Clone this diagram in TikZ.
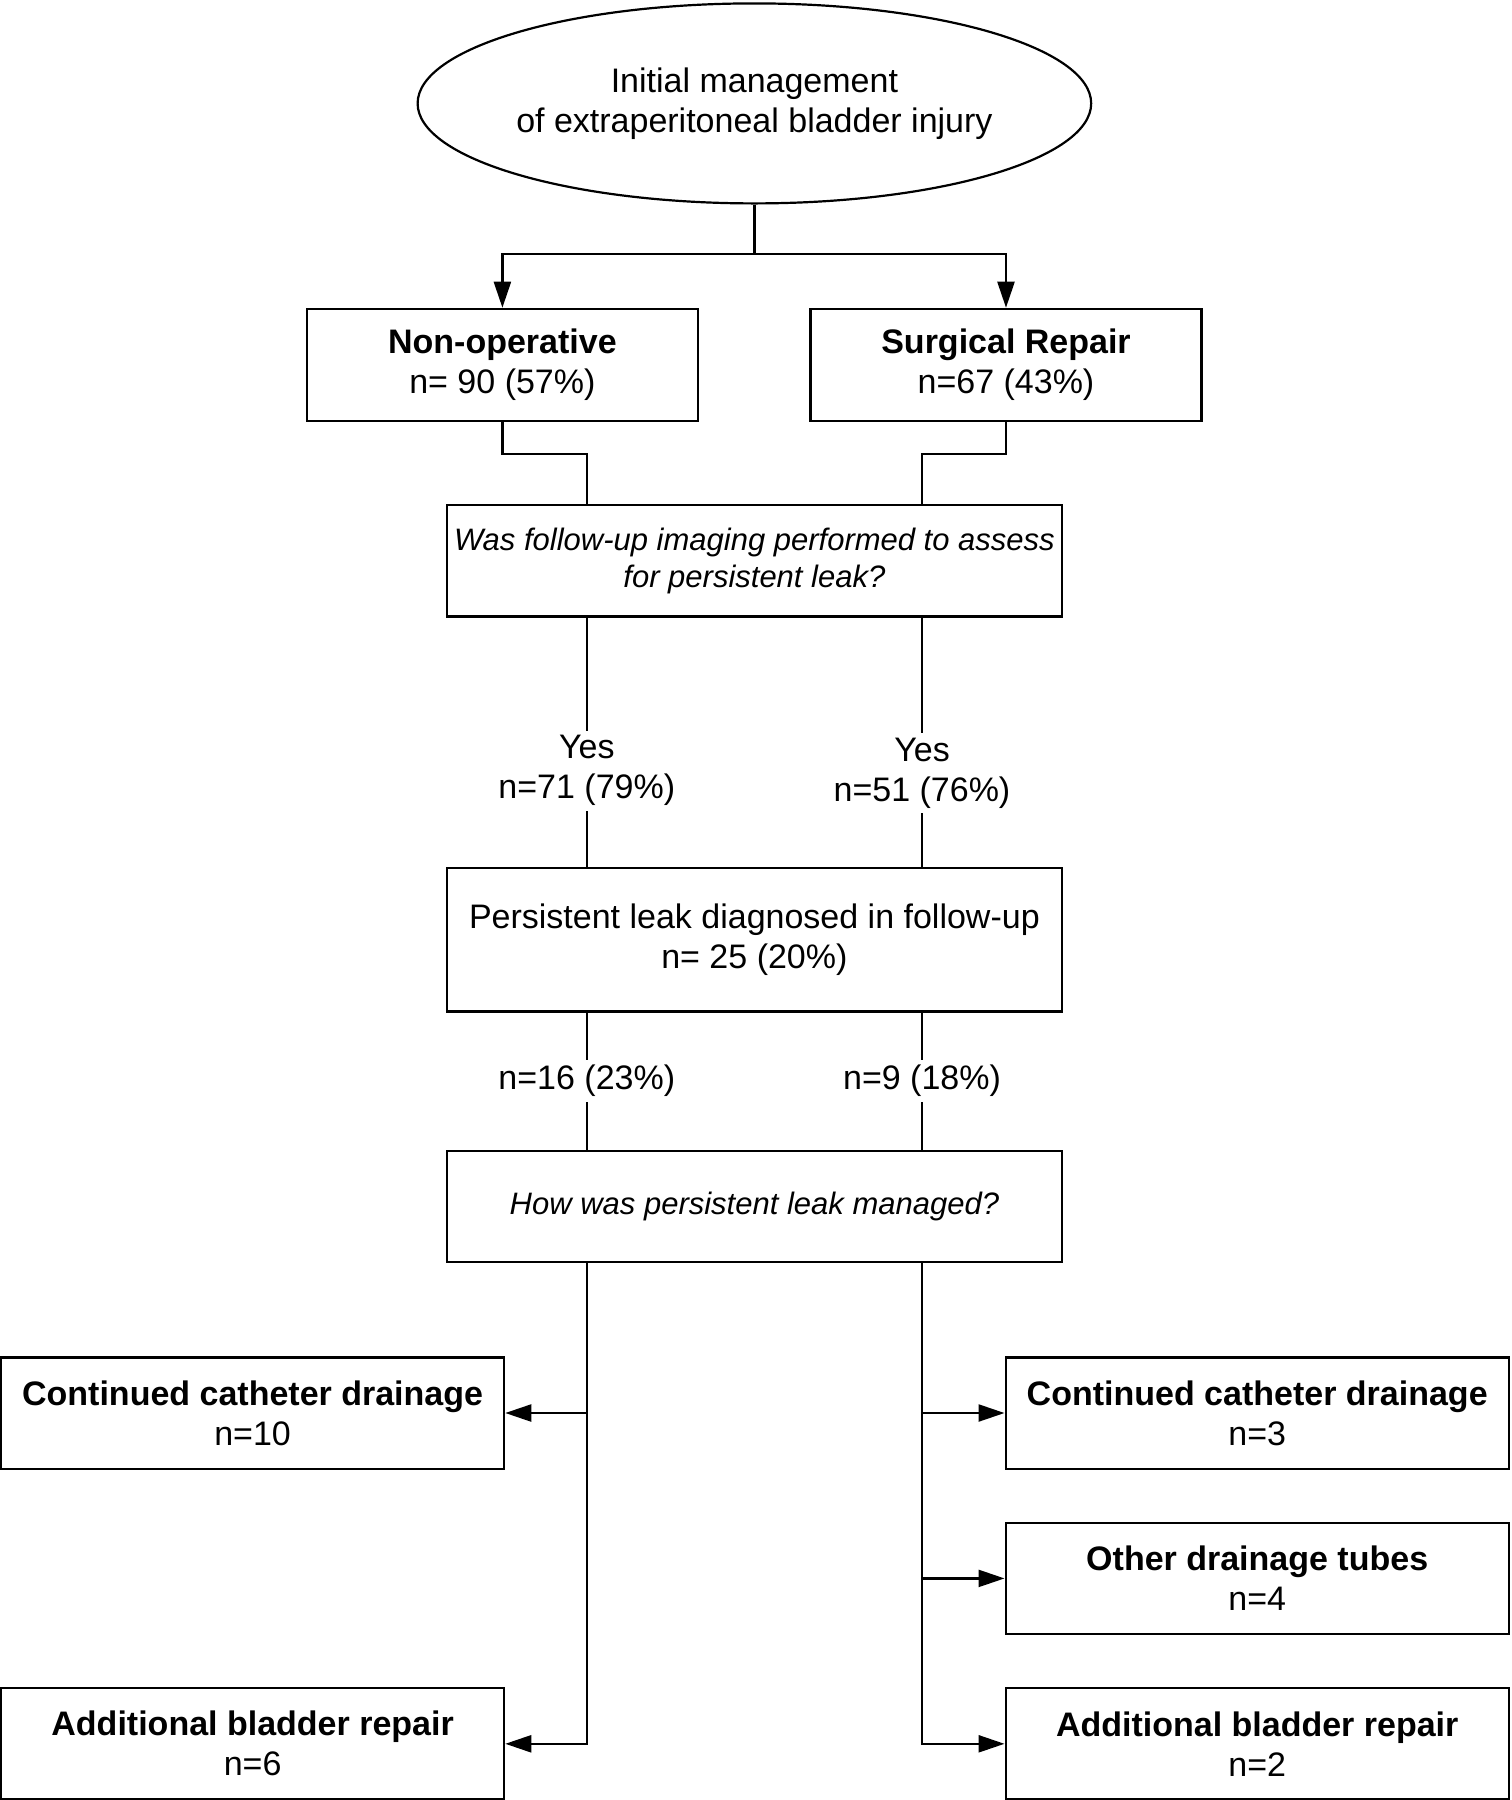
\documentclass[tikz,border=0pt]{standalone}
\usepackage{fontspec}
\setmainfont{Liberation Sans}
\usepackage{tikz}
\usetikzlibrary{positioning,arrows.meta,calc,shapes.geometric}
\newcommand{\query}[1]{{\fontsize{15.5pt}{18.5pt}\selectfont\itshape #1}}
\tikzset{
  oval/.style    = {ellipse, draw=black, line width=1.1pt, minimum width=335pt, minimum height=100pt,
                    inner sep=0pt, align=center},
  arm/.style     = {rectangle, draw=black, line width=1.2pt, minimum width=195.5pt, minimum height=56pt,
                    inner sep=2pt, align=center},
  ask/.style     = {rectangle, draw=black, line width=1.2pt, minimum width=307.7pt, minimum height=55.6pt,
                    inner sep=2pt, align=center},
  outcome/.style = {rectangle, draw=black, line width=1.2pt, minimum width=251.5pt, minimum height=55.7pt,
                    inner sep=2pt, align=center},
  link/.style    = {line width=1.2pt, draw=black},
  flow/.style    = {link, -{Triangle[length=13pt, width=8.5pt]}},
  count/.style   = {fill=white, inner sep=2.5pt, align=center},
}

\begin{document}
\begin{tikzpicture}[font=\fontsize{17pt}{20pt}\selectfont]
  \useasboundingbox (0,0) rectangle (755.5pt,-900pt);
  \node[oval] (init) at (377.2pt,-51.7pt) {Initial management\\of extraperitoneal bladder injury};
  \node[arm, below=51.6pt of init, xshift=-126pt] (nonop) {\textbf{Non-operative}\\n= 90 (57\%)};
  \node[arm, right=55.1pt of nonop] (surg) {\textbf{Surgical Repair}\\n=67 (43\%)};
  \node[ask, below=149.7pt of init] (quest)
    {\query{Was follow-up imaging performed to assess}\\[-1.5pt]\query{for persistent leak?}};
  \node[ask, below=124.6pt of quest, minimum height=71.8pt] (leak)
    {Persistent leak diagnosed in follow-up\\n= 25 (20\%)};
  \node[ask, below=68.4pt of leak] (how) {\query{How was persistent leak managed?}};
  \node[outcome, below=46.5pt of how.south east, anchor=north west, xshift=-29.4pt] (rcath)
    {\textbf{Continued catheter drainage}\\n=3};
  \node[outcome, below=25.8pt of rcath] (rtube) {\textbf{Other drainage tubes}\\n=4};
  \node[outcome, below=25.8pt of rtube] (radd) {\textbf{Additional bladder repair}\\n=2};
  \node[outcome, left=249.6pt of rcath] (lcath) {\textbf{Continued catheter drainage}\\n=10};
  \node[outcome] (ladd) at (lcath |- radd) {\textbf{Additional bladder repair}\\n=6};

  \coordinate (split) at ($(init.south)+(0,-24.6pt)$);
  \coordinate (qL) at ($(quest.north)+(-83.8pt,0)$);
  \coordinate (qR) at ($(quest.north)+(83.8pt,0)$);

  \draw[link] (init.south) -- (split);
  \draw[flow] (split) -| (nonop.north);
  \draw[flow] (split) -| (surg.north);
  \draw[link] (nonop.south) -- ++(0,-16pt) -| (qL);
  \draw[link] (surg.south) -- ++(0,-16pt) -| (qR);
  \draw[link] (quest.south -| qL) -- node[count, pos=0.615] {Yes\\n=71 (79\%)} (leak.north -| qL);
  \draw[link] (quest.south -| qR) -- node[count, pos=0.625] {Yes\\n=51 (76\%)} (leak.north -| qR);
  \draw[link] (leak.south -| qL) -- node[count] {n=16 (23\%)} (how.north -| qL);
  \draw[link] (leak.south -| qR) -- node[count] {n=9 (18\%)} (how.north -| qR);
  \draw[flow] (how.south -| qL) |- (ladd.east);
  \draw[flow] (lcath.east -| qL) -- (lcath.east);
  \draw[flow] (how.south -| qR) |- (radd.west);
  \draw[flow] (rcath.west -| qR) -- (rcath.west);
  \draw[flow] (rtube.west -| qR) -- (rtube.west);
\end{tikzpicture}
\end{document}
